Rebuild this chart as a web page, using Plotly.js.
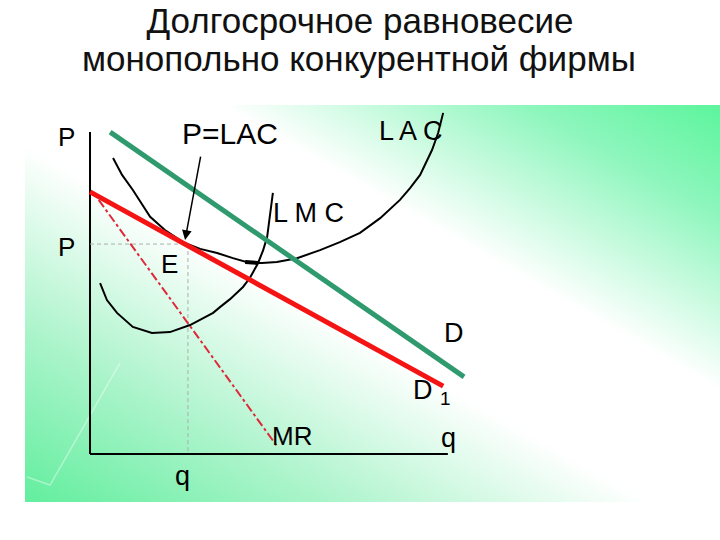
<!DOCTYPE html>
<html>
<head>
<meta charset="utf-8">
<script src="https://cdn.plot.ly/plotly-3.0.1.min.js"></script>
<style>html,body{margin:0;padding:0;background:#fff;}#chart{width:720px;height:540px;}</style>
</head>
<body>
<div id="chart"></div>
<script>
// ---- data (quantity q, price P in chart units) ----
const demandD_q = [0.56, 10.39];
const demandD_P = [10.06, 2.41];
const demandD1_q = [0.0, 9.81];
const demandD1_P = [8.19, 2.12];
const mr_q = [0.24, 5.19];
const mr_P = [7.94, 0.25];
const lac_q = [0.64, 0.89, 1.19, 1.44, 1.67, 2.08, 2.58, 3.06, 3.53, 3.97, 4.44, 4.78, 5.19, 5.75, 6.39, 6.94, 7.50, 8.06, 8.61, 8.89, 9.17, 9.50, 9.67, 9.81];
const lac_P = [9.25, 8.72, 8.25, 7.81, 7.41, 7.00, 6.62, 6.41, 6.28, 6.12, 5.97, 5.97, 6.00, 6.12, 6.37, 6.62, 6.91, 7.37, 7.94, 8.31, 8.72, 9.50, 10.03, 10.66];
const lmc_q = [0.28, 0.47, 0.75, 1.19, 1.72, 2.22, 2.78, 3.06, 3.42, 3.61, 3.89, 4.25, 4.44, 4.67, 4.81, 4.92, 5.00, 5.08];
const lmc_P = [5.34, 4.81, 4.41, 3.97, 3.78, 3.81, 4.03, 4.19, 4.41, 4.59, 4.84, 5.22, 5.50, 5.97, 6.37, 6.78, 7.47, 8.16];
const lacMinMark_q = [4.31, 4.67];
const lacMinMark_P = [6.0, 5.97];
const eqQ = 2.72;      // equilibrium quantity q
const eqP = 6.56;      // equilibrium price P
const eqTouchQ = 2.64; // tangency point E on LAC
const axisQmax = 9.94;
const axisPmax = 10.06;
const decoLine_q = [0.83, -1.11, -1.75];
const decoLine_P = [2.84, -0.97, -0.72];

const titleLine1 = "Долгосрочное равновесие";
const titleLine2 = "монопольно конкурентной фирмы";

// background gradient
const svg = '<svg xmlns="http://www.w3.org/2000/svg" width="695" height="397" preserveAspectRatio="none">' +
  '<defs><linearGradient id="g" x1="1" y1="0" x2="0" y2="1">' +
  '<stop offset="0" stop-color="#5cf59c"/>' +
  '<stop offset="0.14" stop-color="#8ef6bd"/>' +
  '<stop offset="0.36" stop-color="#ffffff"/>' +
  '<stop offset="0.55" stop-color="#ffffff"/>' +
  '<stop offset="0.78" stop-color="#acf4cb"/>' +
  '<stop offset="1" stop-color="#62ee9e"/>' +
  '</linearGradient></defs><rect width="695" height="397" fill="url(#g)"/></svg>';
const bgSrc = 'data:image/svg+xml;charset=utf-8,' + encodeURIComponent(svg);

const narrow = "Liberation Sans Narrow, Arial Narrow, Liberation Sans, Arial, sans-serif";
const regular = "Liberation Sans, Arial, sans-serif";

const traces = [
  {x: decoLine_q, y: decoLine_P, mode: 'lines', line: {color: 'rgba(255,255,255,0.4)', width: 1.5}, hoverinfo: 'skip'},
  {x: [0, 0], y: [0, axisPmax], mode: 'lines', line: {color: '#000', width: 2}, hoverinfo: 'skip'},
  {x: [0, axisQmax], y: [0, 0], mode: 'lines', line: {color: '#000', width: 2}, hoverinfo: 'skip'},
  {x: [0, eqTouchQ], y: [eqP, eqP], mode: 'lines', line: {color: '#a8b0ac', width: 1, dash: '4px,3px'}, hoverinfo: 'skip'},
  {x: [eqQ, eqQ], y: [eqP, 0], mode: 'lines', line: {color: '#a8b0ac', width: 1, dash: '4px,3px'}, hoverinfo: 'skip'},
  {x: mr_q, y: mr_P, mode: 'lines', line: {color: '#dd2a3a', width: 2, dash: 'dashdot'}, name: 'MR'},
  {x: lmc_q, y: lmc_P, mode: 'lines', line: {color: '#000', width: 2}, name: 'LMC'},
  {x: lac_q, y: lac_P, mode: 'lines', line: {color: '#000', width: 2}, name: 'LAC'},
  {x: lacMinMark_q, y: lacMinMark_P, mode: 'lines', line: {color: '#000', width: 4}, hoverinfo: 'skip'},
  {x: demandD_q, y: demandD_P, mode: 'lines', line: {color: '#2f9a6e', width: 5}, name: 'D'},
  {x: demandD1_q, y: demandD1_P, mode: 'lines', line: {color: '#f41414', width: 5}, name: 'D1'}
];

function lab(text, q, p, size, fam) {
  return {x: q, y: p, xref: 'x', yref: 'y', text: text, showarrow: false,
          font: {family: fam || narrow, size: size || 26, color: '#000'},
          xanchor: 'center', yanchor: 'middle'};
}

const annotations = [
  lab('P', -0.64, 9.91),
  lab('P', -0.64, 6.47),
  lab('P=LAC', 3.89, 10.0, 30, regular),
  lab('L A C', 8.92, 10.09, 27),
  lab('L M C', 6.06, 7.53, 27),
  lab('E', 2.22, 5.94, 26),
  lab('D', 10.11, 3.78, 27),
  lab('D <sub>1</sub>', 9.5, 1.94, 27),
  lab('MR', 5.61, 0.56, 26),
  lab('q', 9.97, 0.5, 27),
  lab('q', 2.58, -0.69, 27),
  {x: eqTouchQ, y: 6.69, ax: 3.08, ay: 9.34, xref: 'x', yref: 'y', axref: 'x', ayref: 'y',
   text: '', showarrow: true, arrowhead: 2, arrowsize: 1.3, arrowwidth: 1.5, arrowcolor: '#000'},
  {x: 0.4806, y: 1.118, xref: 'paper', yref: 'paper', text: titleLine2, showarrow: false,
   font: {family: regular, size: 35, color: '#111'}, xanchor: 'center', yanchor: 'middle'}
];

const layout = {
  width: 720, height: 540,
  margin: {l: 25, r: 0, t: 105, b: 38, pad: 0},
  paper_bgcolor: '#ffffff',
  plot_bgcolor: 'rgba(0,0,0,0)',
  showlegend: false,
  title: {text: titleLine1, x: 0.5, xref: 'container', y: 0.962, yref: 'container', yanchor: 'middle', xanchor: 'center',
          font: {family: regular, size: 35, color: '#111'}},
  xaxis: {range: [-1.806, 17.5], visible: false, fixedrange: true},
  yaxis: {range: [-1.5, 10.906], visible: false, fixedrange: true},
  images: [{source: bgSrc, xref: 'paper', yref: 'paper', x: 0, y: 1, sizex: 1, sizey: 1,
            sizing: 'stretch', xanchor: 'left', yanchor: 'top', layer: 'below'}],
  annotations: annotations
};

Plotly.newPlot('chart', traces, layout, {staticPlot: true, displayModeBar: false});
</script>
</body>
</html>
